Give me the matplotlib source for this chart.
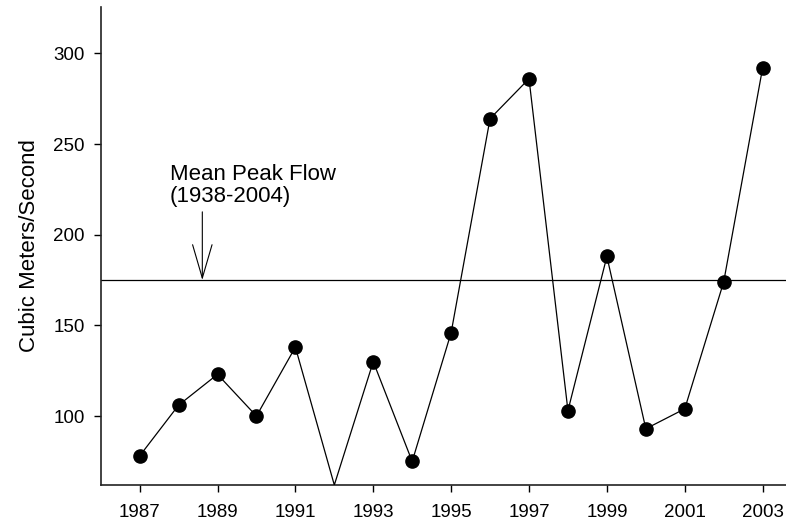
import matplotlib
matplotlib.use("Agg")
import matplotlib.pyplot as plt

# ============================================================
# DATA
# ============================================================
years = list(range(1987, 2004))
peak_flow = [78, 106, 123, 100, 138, 62, 130, 75, 146, 264, 286,
             103, 188, 93, 104, 174, 292]   # m3/s
mean_peak_flow = 175          # 1938-2004 mean
year_ticks = list(range(1987, 2004, 2))
flow_ticks = [100, 150, 200, 250, 300]

Y_MIN, Y_MAX = 62, 325.7
X_MIN, X_MAX = 1986, 2003.6

plt.rcParams["font.family"] = ["Liberation Sans", "DejaVu Sans"]

# ============================================================
# PLOT
# ============================================================
fig = plt.figure(figsize=(7.86, 5.25), dpi=100)
ax = fig.add_axes([0.1281, 0.0762, 0.8719, 0.911])

# points that sit on / below the axis floor get no marker
marks = [i for i, v in enumerate(peak_flow) if v > Y_MIN]
ax.plot(years, peak_flow, color="black", linewidth=0.9,
        marker="o", markersize=9.5, markevery=marks, zorder=3)

ax.axhline(mean_peak_flow, color="black", linewidth=0.9, zorder=2)

ax.annotate("", xy=(1988.61, mean_peak_flow), xytext=(1988.61, 212.6),
            arrowprops=dict(arrowstyle="->,head_length=2.4,head_width=0.7",
                            mutation_scale=10, color="black", linewidth=0.8,
                            shrinkA=0, shrinkB=0))
ax.text(1987.77, 215.2, "Mean Peak Flow\n(1938-2004)", fontsize=16,
        ha="left", va="bottom", linespacing=1.05)

ax.set_xlim(X_MIN, X_MAX)
ax.set_ylim(Y_MIN, Y_MAX)
ax.set_xticks(year_ticks)
ax.set_yticks(flow_ticks)
ax.tick_params(axis="both", labelsize=13.5, length=5, width=1.0, direction="out")
ax.tick_params(axis="x", pad=9)
ax.tick_params(axis="y", pad=6.5)

for side in ["top", "right"]:
    ax.spines[side].set_visible(False)
for side in ["left", "bottom"]:
    ax.spines[side].set_linewidth(1.2)
    ax.spines[side].set_color("#222222")

ax.set_ylabel("Cubic Meters/Second", fontsize=16)
ax.yaxis.set_label_coords(-0.088, 0.5)

fig.savefig("out.png", dpi=100)
